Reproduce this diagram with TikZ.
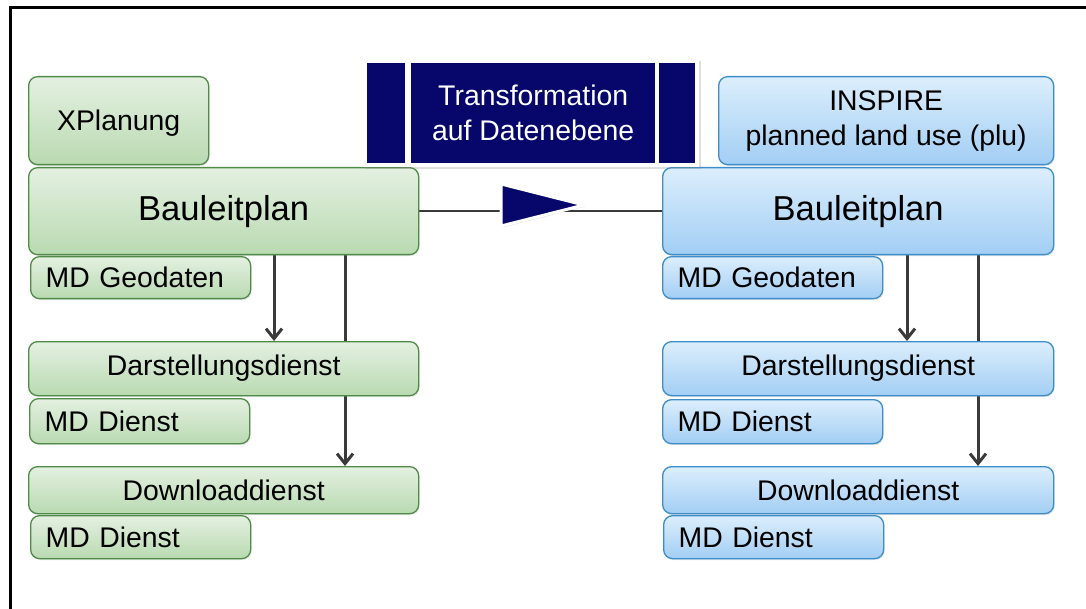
\documentclass[tikz,border=0pt]{standalone}
\usepackage{fontspec}
\setmainfont{Liberation Sans}
\usetikzlibrary{arrows.meta,shadows,calc}
\pgfdeclarelayer{background}
\pgfsetlayers{background,main}
\definecolor{gtop}{HTML}{E4F0E1}
\definecolor{gbot}{HTML}{B9DAB1}
\definecolor{gdraw}{HTML}{4F8A46}
\definecolor{btop}{HTML}{DCEEFC}
\definecolor{bbot}{HTML}{A2CEF4}
\definecolor{bdraw}{HTML}{3C8DC8}
\definecolor{navy}{HTML}{06066B}
\definecolor{conn}{HTML}{3A3A3A}
\tikzset{
  base/.style={rounded corners=9pt, line width=1.3pt, inner sep=0pt,
    font=\fontsize{28.4}{35}\selectfont, anchor=north west,
    drop shadow={opacity=0.18, shadow xshift=1pt, shadow yshift=-1.5pt}},
  gbox/.style={base, draw=gdraw, top color=gtop, bottom color=gbot},
  bbox/.style={base, draw=bdraw, top color=btop, bottom color=bbot},
  mdtext/.style={text width=190pt, inner xsep=15pt, align=left},
  big/.style={font=\fontsize{34.6}{40}\selectfont},
  arr/.style={draw=conn, line width=3pt, -{Straight Barb[length=10pt,width=16pt,line width=3pt]}},
  hline/.style={draw=conn, line width=2pt},
  navyfill/.style={fill=navy}
}
\begin{document}
\begin{tikzpicture}[x=1pt,y=-1pt]
\useasboundingbox (0,0) rectangle (1086,609);
% frame
\draw[line width=3pt, black] (10,609) -- (10,8) -- (1086,8);

% left column
\node[gbox, minimum width=180, minimum height=88, text depth=0pt] (xplL) at (28,76) {XPlanung};
\node[gbox, big, minimum width=390, minimum height=87] (baulL) at (28,167) {Bauleitplan};
\node[gbox, mdtext, minimum height=42] (mdgL) at (30,256) {MD Geodaten};
\node[gbox, minimum width=390, minimum height=54] (darL) at (28,341) {Darstellungsdienst};
\node[gbox, mdtext, minimum height=45] (mddL1) at (29,398) {MD Dienst};
\node[gbox, minimum width=390, minimum height=47] (dlL) at (28,466) {Downloaddienst};
\node[gbox, mdtext, minimum height=43] (mddL2) at (30,515) {MD Dienst};

% right column
\node[bbox, align=center, minimum width=335, minimum height=88] (inspR) at (718,76) {INSPIRE\\planned land use (plu)};
\node[bbox, big, minimum width=391, minimum height=87] (baulR) at (662,167) {Bauleitplan};
\node[bbox, mdtext, minimum height=42] (mdgR) at (662,256) {MD Geodaten};
\node[bbox, minimum width=391, minimum height=54] (darR) at (662,341) {Darstellungsdienst};
\node[bbox, mdtext, minimum height=44] (mddR1) at (662,399) {MD Dienst};
\node[bbox, minimum width=391, minimum height=47] (dlR) at (662,466) {Downloaddienst};
\node[bbox, mdtext, minimum height=43] (mddR2) at (663,515) {MD Dienst};

% connector x positions
\coordinate (xl1) at (274,0);
\coordinate (xl2) at (345,0);
\coordinate (xr1) at (907,0);
\coordinate (xr2) at (978,0);

\begin{pgfonlayer}{background}
  \draw[arr] (xl1 |- baulL.south) -- (xl1 |- darL.north);
  \draw[arr] (xl2 |- baulL.south) -- (xl2 |- dlL.north);
  \draw[arr] (xr1 |- baulR.south) -- (xr1 |- darR.north);
  \draw[arr] (xr2 |- baulR.south) -- (xr2 |- dlR.north);
  \draw[hline] (baulL.east) -- (baulR.west);
\end{pgfonlayer}

% transformation banner
\fill[white, drop shadow={opacity=0.25, shadow xshift=2pt, shadow yshift=-2pt}] (363,59) rectangle (699,167);
\fill[navyfill] (367,63) rectangle (405,163);
\node[navyfill, text=white, minimum width=244, minimum height=100, anchor=north west,
      inner sep=0pt, align=center, font=\fontsize{28.4}{35}\selectfont] (trans) at (411,63)
      {Transformation\\auf Datenebene};
\fill[navyfill] (659,63) rectangle (695,163);

% triangle
\filldraw[fill=navy, draw=white, line width=3pt, line join=miter,
  drop shadow={opacity=0.25, shadow xshift=1.5pt, shadow yshift=-1.5pt}]
  (501,184) -- (584,205) -- (501,226) -- cycle;
\end{tikzpicture}
\end{document}
